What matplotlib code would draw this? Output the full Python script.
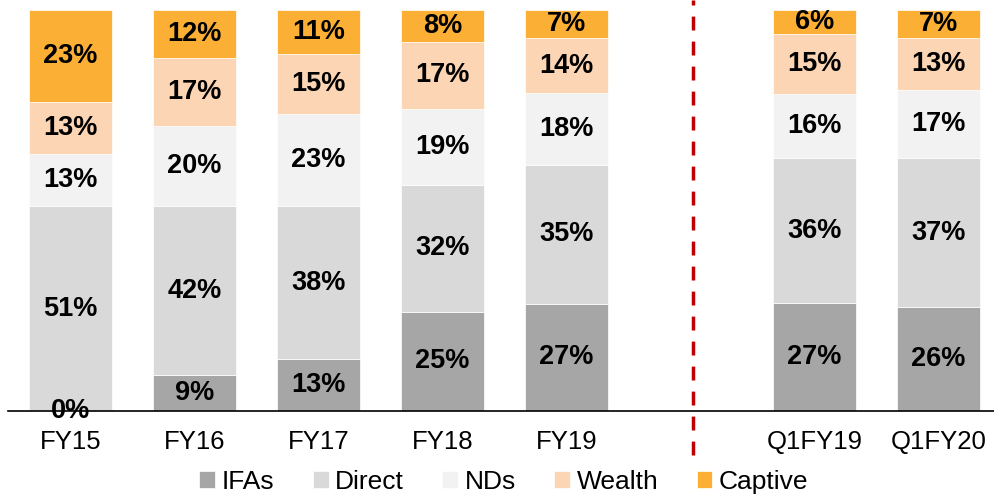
import numpy as np
import matplotlib.pyplot as plt
from matplotlib.lines import Line2D

plt.rcParams['font.family'] = ['Liberation Sans', 'DejaVu Sans']

categories = ['FY15', 'FY16', 'FY17', 'FY18', 'FY19', 'Q1FY19', 'Q1FY20']
ifas = [0, 9, 13, 25, 27, 27, 26]
direct = [51, 42, 38, 32, 35, 36, 37]
nds = [13, 20, 23, 19, 18, 16, 17]
wealth = [13, 17, 15, 17, 14, 15, 13]
captive = [23, 12, 11, 8, 7, 6, 7]

series = [('IFAs', ifas, '#A6A6A6'),
          ('Direct', direct, '#D9D9D9'),
          ('NDs', nds, '#F2F2F2'),
          ('Wealth', wealth, '#FCD5B4'),
          ('Captive', captive, '#FBAF34')]

# gap after FY19 for the dashed separator
x = np.array([0, 1, 2, 3, 4, 6, 7])

# labels are rounded shares; bars are stacked to 100%
total = np.sum([np.array(s[1], dtype=float) for s in series], axis=0)

fig = plt.figure(figsize=(9.94, 4.97), dpi=100)
ax = fig.add_axes([0.008, 0.173, 0.992, 0.807])

bottom = np.zeros(len(categories))
for name, vals, col in series:
    vals = np.array(vals, dtype=float)
    h = vals * 100 / total
    ax.bar(x, h, width=0.67, bottom=bottom, color=col, label=name,
           edgecolor='white', linewidth=0.5)
    for xi, b, hh, v in zip(x, bottom, h, vals):
        ax.text(xi, b + hh / 2, '%d%%' % v, ha='center', va='center',
                fontsize=19.5, fontweight='bold', color='black')
    bottom += h

ax.set_xlim(-0.505, 7.45)
ax.set_ylim(0, 100)
ax.set_xticks(x)
ax.set_xticklabels(categories, fontsize=18.5)
ax.tick_params(axis='x', length=0, pad=14)
ax.set_yticks([])
for s in ['left', 'right', 'top']:
    ax.spines[s].set_visible(False)
ax.spines['bottom'].set_linewidth(1.2)
ax.spines['bottom'].set_zorder(5)

ax.add_line(Line2D([5.02, 5.02], [-11, 102.5], color='#C00000', lw=2.5,
                   linestyle=(0, (4, 3.2)), clip_on=False))

fig.legend(loc='center', bbox_to_anchor=(0.507, 0.03), ncol=5, frameon=False,
           fontsize=19, handlelength=0.6, handleheight=0.6, handletextpad=0.25,
           columnspacing=1.45, borderpad=0)

fig.savefig('out.png', dpi=100)
